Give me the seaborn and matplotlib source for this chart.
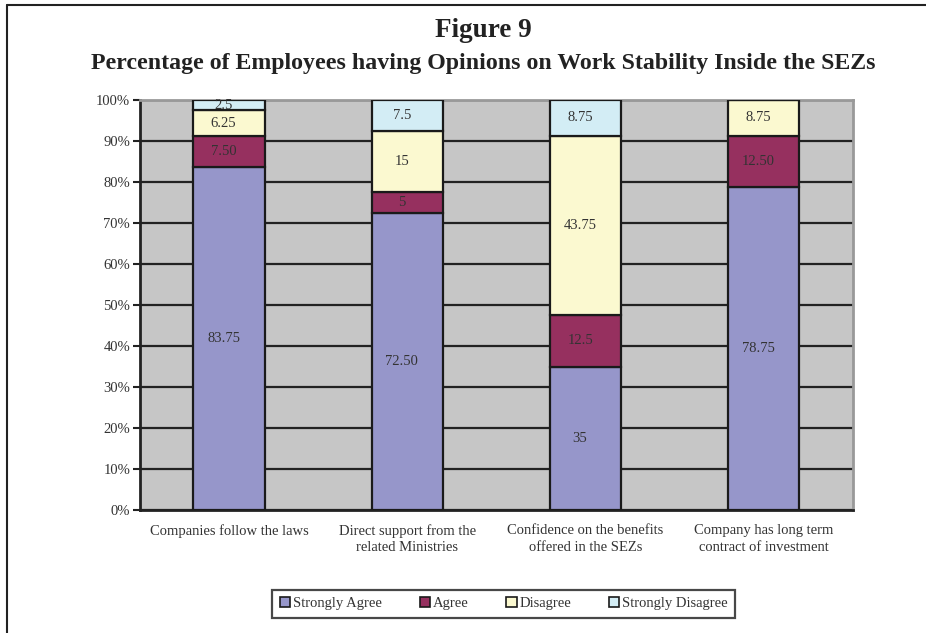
import numpy as np
import pandas as pd
import seaborn as sns
import matplotlib.pyplot as plt
from matplotlib.patches import Patch
from matplotlib.lines import Line2D

# Data
categories = ["Companies follow the laws",
              "Direct support from the\nrelated Ministries",
              "Confidence on the benefits\noffered in the SEZs",
              "Company has long term\ncontract of investment"]
series_names = ["Strongly Agree", "Agree", "Disagree", "Strongly Disagree"]
strongly_agree = [83.75, 72.50, 35.0, 78.75]
agree = [7.50, 5.0, 12.5, 12.50]
disagree = [6.25, 15.0, 43.75, 8.75]
strongly_disagree = [2.5, 7.5, 8.75, 0.0]
# labels as printed on the chart
sa_labels = ["83.75", "72.50", "35", "78.75"]
a_labels = ["7.50", "5", "12.5", "12.50"]
d_labels = ["6.25", "15", "43.75", "8.75"]
sd_labels = ["2.5", "7.5", "8.75", ""]

colors = ["#9696CA", "#96305F", "#FBF9D0", "#D3EDF5"]

sns.set_theme(style="white")
plt.rcParams["font.family"] = ["Liberation Serif", "DejaVu Serif"]

fig = plt.figure(figsize=(9.26, 6.33), dpi=100)
ax = fig.add_axes([0.151, 0.194, 0.770, 0.648])
ax.set_facecolor("#C6C6C6")

values = [strongly_agree, agree, disagree, strongly_disagree]
labels = [sa_labels, a_labels, d_labels, sd_labels]
bottom = np.zeros(len(categories))
for name, vals, col, labs in zip(series_names, values, colors, labels):
    df = pd.DataFrame({"cat": categories, "val": vals})
    sns.barplot(data=df, x="cat", y="val", color=col, width=0.4,
                errorbar=None, bottom=bottom.copy(), edgecolor="#1a1a1a",
                linewidth=1.6, saturation=1, ax=ax, zorder=3)
    for i, (v, lab) in enumerate(zip(vals, labs)):
        if lab:
            ax.text(i - 0.03, bottom[i] + v / 2, lab, ha="center", va="center",
                    fontsize=10.5, color="#333333", zorder=4)
    bottom = bottom + np.array(vals)

ax.set_ylim(0, 100)
ax.set_xlim(-0.5, 3.5)
ax.set_yticks(np.arange(0, 101, 10))
ax.set_yticklabels([f"{t}%" for t in range(0, 101, 10)], fontsize=10.5, color="#333333")
ax.yaxis.grid(True, color="#222222", linewidth=1.6, zorder=0)
ax.set_axisbelow(True)
ax.set_xlabel("")
ax.set_ylabel("")

# category labels centred, tick marks between categories
ax.set_xticks(range(len(categories)))
ax.set_xticklabels(categories, fontsize=10.5, color="#333333", linespacing=1.35)
ax.tick_params(axis="x", length=0, pad=10)
ax.set_xticks(np.arange(0.5, 3.6, 1.0), minor=True)
ax.tick_params(axis="x", which="minor", length=5, width=1.5, color="#222222", direction="out")
ax.tick_params(axis="y", length=5, width=1.5, color="#222222", direction="out", left=True, pad=2)

for side in ["left", "bottom"]:
    ax.spines[side].set_color("#222222")
    ax.spines[side].set_linewidth(2)
for side in ["top", "right"]:
    ax.spines[side].set_color("#999999")
    ax.spines[side].set_linewidth(2)

fig.text(0.522, 0.952, "Figure 9", ha="center", va="center",
         fontsize=19.5, fontweight="bold", color="#222222")
fig.text(0.522, 0.900, "Percentage of Employees having Opinions on Work Stability Inside the SEZs",
         ha="center", va="center", fontsize=17.2, fontweight="bold", color="#222222")

handles = [Patch(facecolor=c, edgecolor="#1a1a1a", linewidth=1.2) for c in colors]
leg = fig.legend(handles, series_names, loc="center", bbox_to_anchor=(0.544, 0.046),
                 ncol=4, frameon=True, fancybox=False, fontsize=10.5,
                 handlelength=0.7, handleheight=0.7, handletextpad=0.2,
                 columnspacing=2.6, borderpad=0.5)
leg.get_frame().set_edgecolor("#1a1a1a")
leg.get_frame().set_linewidth(1.6)
for t in leg.get_texts():
    t.set_color("#333333")

# outer frame lines (left and top)
fig.add_artist(Line2D([0.008, 0.008], [0.0, 0.992], color="#222222", linewidth=1.5))
fig.add_artist(Line2D([0.008, 1.0], [0.992, 0.992], color="#222222", linewidth=1.5))

fig.savefig("out.png", dpi=100)
